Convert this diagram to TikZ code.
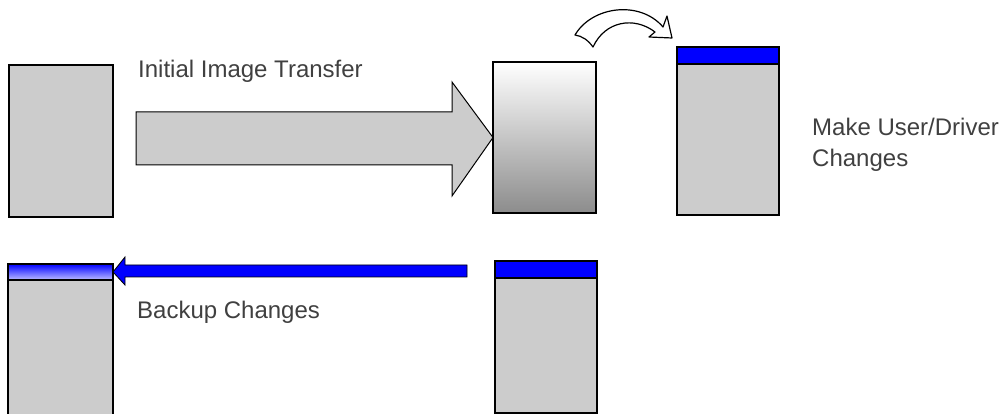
\documentclass[tikz,border=0pt]{standalone}
\usepackage{fontspec}
\setmainfont{Liberation Sans}
\definecolor{boxgray}{RGB}{204,204,204}
\definecolor{txtgray}{RGB}{64,64,64}
\definecolor{shadebot}{RGB}{140,140,140}
\definecolor{pureblue}{RGB}{0,0,255}
\begin{document}
\begin{tikzpicture}[x=1pt,y=-1pt,
  box/.style={draw=black,line width=1.1pt,fill=boxgray,inner sep=0pt,outer sep=0pt,anchor=north west},
  band/.style={draw=black,line width=1.1pt,fill=pureblue,inner sep=0pt,outer sep=0pt,anchor=north west},
  lbl/.style={anchor=base west,inner sep=0pt,text=txtgray,font=\fontsize{24}{32}\selectfont},
  blockarrow/.style={draw=black,line width=1pt,line join=miter}]
\useasboundingbox (0,0) rectangle (1007,414);
\clip (0,0) rectangle (1007,414);

% top row
\node[box,minimum width=104pt,minimum height=152pt] (orig) at (9,65) {};
\node[box,minimum width=103pt,minimum height=151pt,top color=white,bottom color=shadebot] (image) at (493,62) {};
\node[box,minimum width=102pt,minimum height=168pt] (changed) at (677,47) {};
\node[band,minimum width=102pt,minimum height=17pt] (changedband) at (677,47) {};

% big transfer arrow
\coordinate (bigtail) at (136,138.5);
\draw[blockarrow,fill=boxgray] (bigtail |- 0,112) -- (452,112) -- (452,82) -- (image.west) -- (452,196) -- (452,165) -- (bigtail |- 0,165) -- cycle;

% curved arrow
\coordinate (ctail) at (575,35);
\coordinate (ctip) at (672,38);
\draw[blockarrow,fill=white,line width=1.2pt,line join=round] (ctail)
  .. controls (592,6) and (640,0) .. (663,27)
  -- (667,16) -- (ctip) -- (649,37) -- (655,32)
  .. controls (634,16) and (605,21) .. (593,47)
  .. controls (588,40) and (582,36) .. (ctail) -- cycle;

% bottom row
\node[box,minimum width=105pt,minimum height=170pt] (backup) at (8,264) {};
\node[band,minimum width=105pt,minimum height=16pt,top color=pureblue,bottom color=pureblue!25] (backupband) at (8,264) {};
\node[box,minimum width=102pt,minimum height=152pt] (current) at (495,261) {};
\node[band,minimum width=102pt,minimum height=17pt] (currentband) at (495,261) {};

% blue backup arrow
\coordinate (btip) at (backupband.east);
\draw[blockarrow,fill=pureblue,line width=0.8pt] (467,265) -- (125,265) -- (125,257) -- (btip) -- (125,285) -- (125,277) -- (467,277) -- cycle;

% labels
\node[lbl] (t1) at (138,78) {Initial Image Transfer};
\node[lbl] (t2) at (137,318) {Backup Changes};
\node[lbl] (t3) at (812,136) {Make User/Driver};
\node[lbl] (t4) at (812,167) {Changes};
\end{tikzpicture}
\end{document}
